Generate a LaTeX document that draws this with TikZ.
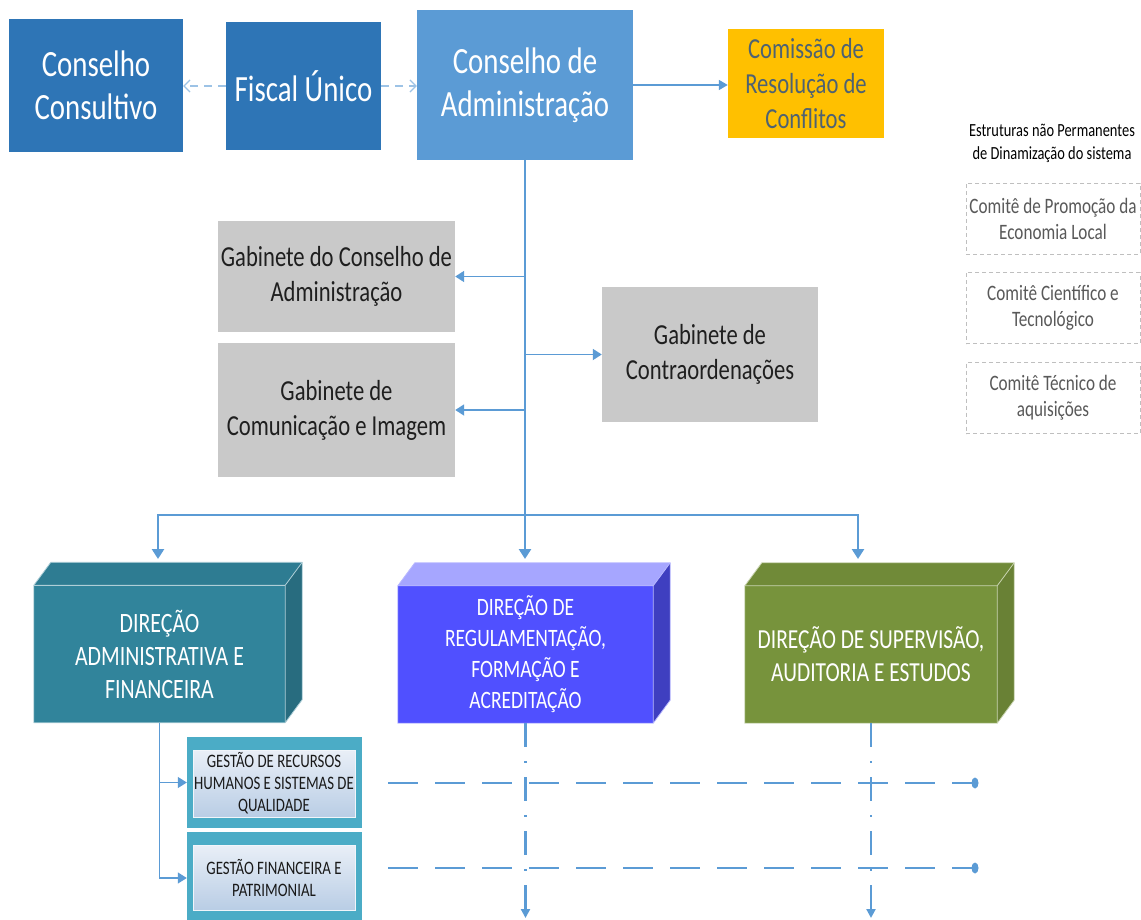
\documentclass[tikz,border=0pt]{standalone}
\usepackage{fontspec}
\setmainfont[FakeStretch=0.78]{Carlito}
\usetikzlibrary{arrows.meta,calc}
\definecolor{darkblue}{HTML}{2E75B6}
\definecolor{cablue}{HTML}{5B9BD5}
\definecolor{gold}{HTML}{FFC000}
\definecolor{slate}{HTML}{4E6272}
\definecolor{grayfill}{HTML}{C9C9C9}
\definecolor{linecol}{HTML}{5B9BD5}
\definecolor{lightline}{HTML}{9DC3E6}
\definecolor{tealf}{HTML}{31849B}
\definecolor{regf}{HTML}{5050FF}
\definecolor{regtop}{HTML}{A6A6FF}
\definecolor{regside}{HTML}{3F3FC0}
\definecolor{olivef}{HTML}{77933C}
\definecolor{gteal}{HTML}{4BACC6}
\definecolor{ginA}{HTML}{E9EFF7}
\definecolor{ginB}{HTML}{B9CDE5}
\definecolor{dboxtext}{HTML}{595959}
\newcommand\mycube[4]{%
  \fill[#2] (#1.north west) -- ++(17,-23) -- ($(#1.north east)+(17,-23)$) -- (#1.north east) -- cycle;
  \fill[#3] (#1.north east) -- ++(17,-23) -- ($(#1.south east)+(17,-23)$) -- (#1.south east) -- cycle;
  \draw[#4, line width=0.8pt, line join=round] (#1.south west) -- (#1.north west) -- ++(17,-23) -- ($(#1.north east)+(17,-23)$) -- ($(#1.south east)+(17,-23)$) -- (#1.south east) -- cycle;
  \draw[#4, line width=0.8pt] (#1.north west) -- (#1.north east) -- (#1.south east) (#1.north east) -- ++(17,-23);
}
\begin{document}
\begin{tikzpicture}[x=1pt,y=-1pt,
  topbox/.style={fill=darkblue, text=white, align=center, inner sep=0pt,
    font=\fontsize{37}{43}\selectfont},
  gbox/.style={fill=grayfill, text=black!88, align=center, inner sep=0pt,
    font=\fontsize{29}{35}\selectfont},
  dbox/.style={draw=black!25, dash pattern=on 4pt off 3pt, line width=0.7pt, text=dboxtext,
    align=center, inner sep=0pt, minimum width=174pt, minimum height=71pt,
    font=\fontsize{22}{26}\selectfont},
  dirbox/.style={text=white, align=center, inner sep=0pt, minimum height=137pt},
  gouter/.style={fill=gteal, inner sep=0pt, minimum width=175pt},
  ginner/.style={top color=ginA, bottom color=ginB, draw=white!80!ginB, line width=0.6pt,
    text=black!90, align=center, inner sep=0pt, minimum width=162pt,
    font=\fontsize{19}{22}\selectfont},
  dasharrow/.style={draw=lightline, line width=2pt, dash pattern=on 8pt off 6pt,
    -{Straight Barb[length=6pt,width=12pt,line width=1.2pt]}},
  solidarrow/.style={draw=linecol, line width=1.6pt, -{Triangle[length=9pt,width=10pt]}},
  mainarrow/.style={draw=linecol, line width=2.6pt, -{Triangle[length=10pt,width=12pt]}},
  garrow/.style={draw=linecol, line width=1.8pt, -{Triangle[length=9pt,width=11pt]}},
  thinarrow/.style={draw=linecol, line width=1.2pt, -{Triangle[length=9pt,width=11pt]}},
  hdash/.style={draw=linecol, line width=2.8pt, dash pattern=on 30pt off 17pt},
  vdash/.style={draw=linecol, line width=2.2pt, dash pattern=on 24pt off 14pt on 2pt off 14pt,
    -{Triangle[length=9pt,width=9pt]}}
]
\useasboundingbox (0,0) rectangle (1141,920);
\fill[white] (0,0) rectangle (1141,920);

% top row
\node[topbox, minimum width=174pt, minimum height=133pt] (cc) at (96,85.5) {Conselho\\Consultivo};
\node[topbox, minimum width=155pt, minimum height=128pt] (fu) at (303.5,86) {Fiscal Único};
\node[topbox, fill=cablue, minimum width=216pt, minimum height=150pt] (ca) at (525,85) {Conselho de\\Administração};
\node[fill=gold, text=slate, align=center, inner sep=0pt, minimum width=156pt, minimum height=109pt,
  font=\fontsize{29}{35}\selectfont] (crc) at (806,84) {Comissão de\\Resolução de\\Conflitos};

% legend
\node[align=center, inner sep=0pt, text=black, font=\fontsize{18.5}{23}\selectfont] (leg) at (1052,143)
  {Estruturas não Permanentes\\de Dinamização do sistema};
\node[dbox] (c1) at (1053,219) {Comitê de Promoção da\\Economia Local};
\node[dbox] (c2) at (1053,308) {Comitê Científico e\\Tecnológico};
\node[dbox] (c3) at (1053,398) {Comitê Técnico de\\aquisições};

% gabinetes
\node[gbox, minimum width=237pt, minimum height=111pt] (g1) at (336.5,276.5) {Gabinete do Conselho de\\Administração};
\node[gbox, minimum width=237pt, minimum height=134pt] (g2) at (336.5,410) {Gabinete de\\Comunicação e Imagem};
\node[gbox, minimum width=216pt, minimum height=135pt] (g3) at (710,354.5) {Gabinete de\\Contraordenações};

% direcoes
\node[dirbox, fill=tealf, minimum width=251pt, font=\fontsize{28}{33}\selectfont] (d1) at (159.5,654)
  {DIREÇÃO\\ADMINISTRATIVA E\\FINANCEIRA};
\node[dirbox, fill=regf, minimum width=255pt, font=\fontsize{25}{31}\selectfont] (d2) at (525.5,654.5)
  {DIREÇÃO DE\\REGULAMENTAÇÃO,\\FORMAÇÃO E\\ACREDITAÇÃO};
\node[dirbox, fill=olivef, minimum width=252pt, font=\fontsize{27.5}{33}\selectfont] (d3) at (871,654.5)
  {DIREÇÃO DE SUPERVISÃO,\\AUDITORIA E ESTUDOS};
\mycube{d1}{tealf!94!black}{tealf!82!black}{white!60!tealf}
\mycube{d2}{regtop}{regside}{white!60!regf}
\mycube{d3}{olivef!94!black}{olivef!88!black}{white!60!olivef}

% gestao
\node[gouter, minimum height=91pt] (h1o) at (274.5,782.5) {};
\node[ginner, minimum height=67pt] (h1) at (274,783.5) {GESTÃO DE RECURSOS\\HUMANOS E SISTEMAS DE\\QUALIDADE};
\node[gouter, minimum height=92pt] (h2o) at (274.5,878) {};
\node[ginner, minimum height=65pt] (h2) at (274,877.5) {GESTÃO FINANCEIRA E\\PATRIMONIAL};

% connectors top
\draw[dasharrow] (fu.west) -- (fu.west -| cc.east);
\draw[dasharrow] (fu.east) -- (fu.east -| ca.west);
\draw[solidarrow] (ca.east) -- (ca.east -| crc.west);

\coordinate (j) at (525,515);
\coordinate (t1) at (158,559);
\coordinate (t2) at (525,559);
\coordinate (t3) at (858,559);
\draw[mainarrow] (ca.south) -- (t2);
\draw[mainarrow] (j) -| (t1);
\draw[mainarrow] (j) -| (t3);
\draw[garrow] (g1.east -| ca.south) -- (g1.east);
\draw[garrow] (g2.east -| ca.south) -- (g2.east);
\draw[garrow] (g3.west -| ca.south) -- (g3.west);

\draw[thinarrow] (d1.south) |- (h1o.west);
\draw[thinarrow] (d1.south) |- (h2o.west);

% dashed lines
\coordinate (a1) at (388,783);
\coordinate (b1) at (975,783);
\coordinate (a2) at (388,868);
\coordinate (b2) at (975,868);
\draw[hdash] (a1) -- (b1);
\draw[hdash] (a2) -- (b2);
\fill[linecol] (b1) ellipse (3.5 and 5.5);
\fill[linecol] (b2) ellipse (3.5 and 5.5);

\coordinate (v2) at (525.5,918);
\coordinate (v3) at (871,918);
\draw[vdash] (d2.south) -- (v2);
\draw[vdash] (d3.south) -- (v3);
\end{tikzpicture}
\end{document}
